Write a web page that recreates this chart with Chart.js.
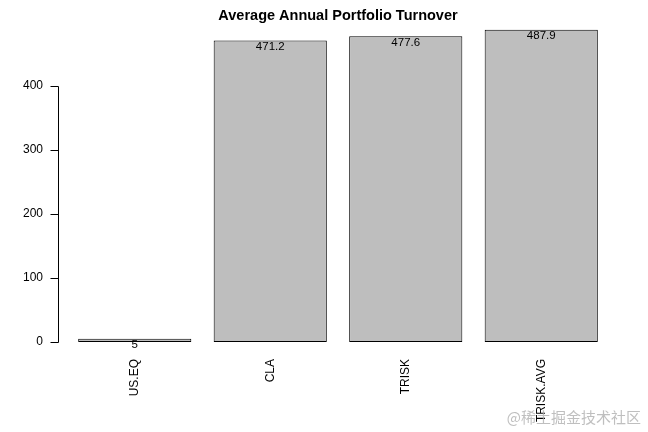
<!DOCTYPE html>
<html>
<head>
<meta charset="utf-8">
<script src="https://cdn.jsdelivr.net/npm/chart.js@4/dist/chart.umd.min.js"></script>
<style>
html,body{margin:0;padding:0;background:#fff;}
#wrap{width:648px;height:432px;position:relative;}
</style>
</head>
<body>
<div id="wrap"><canvas id="c" width="648" height="432"></canvas></div>
<script>
const categories = ["US.EQ", "CLA", "TRISK", "TRISK.AVG"];
const turnover = [5, 471.2, 477.6, 487.9];
const valueLabels = ["5", "471.2", "477.6", "487.9"];
const yTicks = [0, 100, 200, 300, 400];
const titleText = "Average Annual Portfolio Turnover";
const watermark = "@稀土掘金技术社区";

const FONT = "'Liberation Sans', Arial, Helvetica, sans-serif";

function zeroPad(scale) {
  scale.paddingLeft = 0; scale.paddingRight = 0;
  scale.paddingTop = 0; scale.paddingBottom = 0;
}

const rAxisPlugin = {
  id: 'rAxis',
  afterDraw(chart) {
    const ctx = chart.ctx;
    const y = chart.scales.y;
    const area = chart.chartArea;
    const ax = Math.round(area.left - 9.5) + 0.5;
    ctx.save();
    ctx.strokeStyle = '#000';
    ctx.lineWidth = 1;
    ctx.beginPath();
    ctx.moveTo(ax, Math.round(y.getPixelForValue(yTicks[0])) + 0.5);
    ctx.lineTo(ax, Math.round(y.getPixelForValue(yTicks[yTicks.length - 1])) + 0.5);
    yTicks.forEach(v => {
      const py = Math.round(y.getPixelForValue(v)) + 0.5;
      ctx.moveTo(ax, py);
      ctx.lineTo(ax - 8, py);
    });
    ctx.stroke();

    // bar value labels
    const meta = chart.getDatasetMeta(0);
    ctx.fillStyle = '#000';
    ctx.font = "11.5px " + FONT;
    ctx.textAlign = 'center';
    ctx.textBaseline = 'middle';
    meta.data.forEach((bar, i) => {
      ctx.fillText(valueLabels[i], bar.x, bar.y + 6);
    });

    // title
    ctx.font = "bold 14.5px " + FONT;
    ctx.fillText(titleText, (area.left + area.right) / 2, 16);

    // watermark
    ctx.font = "15px 'Noto Sans CJK SC', sans-serif";
    ctx.fillStyle = 'rgba(170,170,170,0.75)';
    ctx.textAlign = 'right';
    ctx.fillText(watermark, 641, 417);
    ctx.restore();
  }
};

new Chart(document.getElementById('c'), {
  type: 'bar',
  data: {
    labels: categories,
    datasets: [{
      data: turnover,
      backgroundColor: '#bebebe',
      borderColor: '#000',
      borderWidth: 1,
      borderSkipped: false,
      barPercentage: 0.835,
      categoryPercentage: 1.0
    }]
  },
  options: {
    responsive: false,
    animation: false,
    devicePixelRatio: 1,
    layout: { padding: { left: 23, right: 39, top: 22, bottom: 9 } },
    plugins: {
      legend: { display: false },
      title: { display: false },
      tooltip: { enabled: false }
    },
    scales: {
      x: {
        grid: { display: false, drawTicks: false },
        border: { display: false },
        afterFit: (scale) => { scale.height = 81; zeroPad(scale); },
        ticks: {
          maxRotation: 90, minRotation: 90,
          padding: 17,
          color: '#000',
          font: { family: FONT, size: 12 }
        }
      },
      y: {
        min: 0, max: 500,
        grid: { display: false, drawTicks: false },
        border: { display: false },
        afterBuildTicks: (scale) => { scale.ticks = yTicks.map(v => ({ value: v })); },
        afterFit: (scale) => { scale.width = 44; zeroPad(scale); },
        ticks: {
          padding: 24,
          color: '#000',
          font: { family: FONT, size: 12 }
        }
      }
    }
  },
  plugins: [rAxisPlugin]
});
</script>
</body>
</html>
